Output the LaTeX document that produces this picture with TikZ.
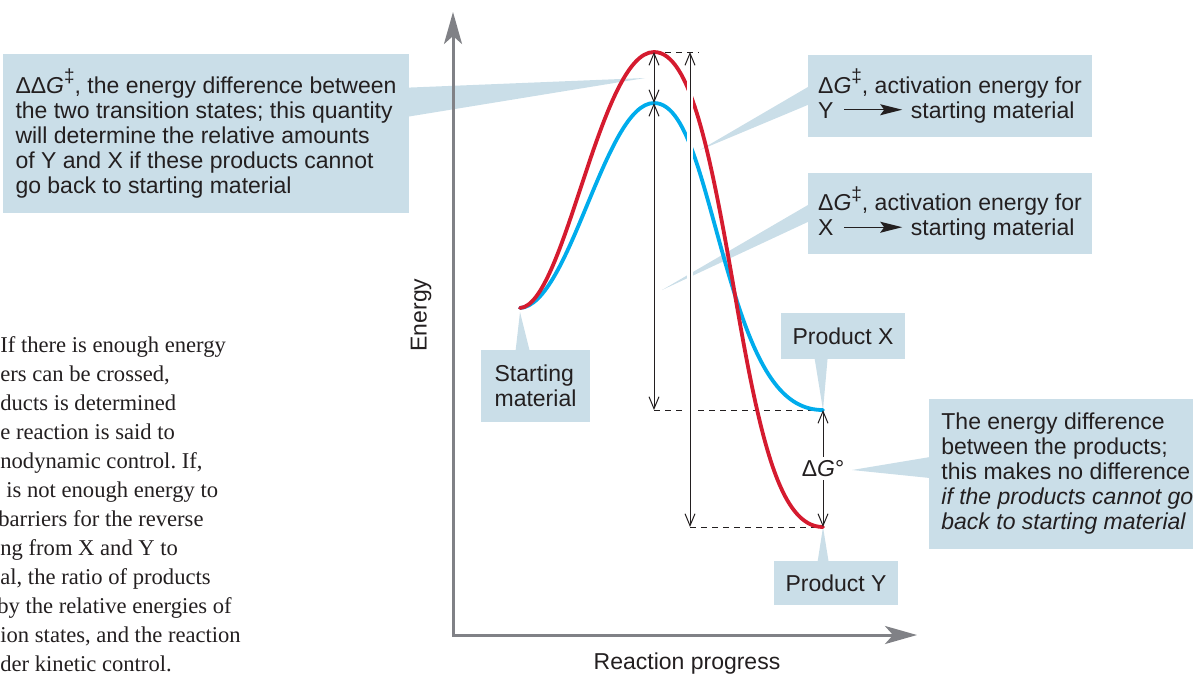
\documentclass[tikz,border=0pt]{standalone}
\usepackage{fontspec}
\setmainfont{Liberation Sans}
\newfontfamily\serifbody{Liberation Serif}
\usepackage{tikz}
\usetikzlibrary{arrows.meta,calc}
\frenchspacing

\definecolor{callout}{RGB}{202,222,232}
\definecolor{curvered}{RGB}{213,27,47}
\definecolor{curveblue}{RGB}{0,172,236}
\definecolor{axisgray}{RGB}{128,129,134}
\definecolor{inktext}{RGB}{35,31,32}

\newcommand{\rxnarrow}{\tikz[baseline=-0.72ex]\draw[inktext, line width=0.7pt, -{Stealth[length=11pt,width=5.5pt,inset=2pt]}] (0pt,0pt) -- (29pt,0pt);}
\newcommand{\tsdag}{\raisebox{0.9ex}{\fontsize{9.5}{9.5}\selectfont ‡}}
\newcommand{\dGdag}{Δ\textit{G}\tsdag}

\begin{document}
\begin{tikzpicture}[x=0.5pt, y=-0.5pt,
  callbox/.style={fill=callout, inner sep=0pt, align=left, text=inktext, font=\fontsize{11.5}{12.5}\selectfont},
  axis/.style={draw=axisgray, line width=1.5pt, {Stealth[length=16pt,width=9pt,inset=4pt]}-{Stealth[length=16pt,width=9pt,inset=4pt]}},
  dim/.style={draw=inktext, line width=0.5pt, {Straight Barb[length=6pt,width=5pt]}-{Straight Barb[length=6pt,width=5pt]}},
  guide/.style={draw=inktext, line width=0.5pt, dash pattern=on 3pt off 2.5pt},
  curve/.style={line width=1.9pt, line cap=round},
  lbl/.style={text=inktext, inner sep=0pt, font=\fontsize{11.5}{12.5}\selectfont},
]
\path[use as bounding box, clip] (0,0) rectangle (1193,677);

% key points of the profile
\coordinate (sm) at (520,308);
\coordinate (tsy) at (654,52);
\coordinate (tsx) at (654,103);
\coordinate (px) at (823,410);
\coordinate (py) at (823,527);
\coordinate (ytop) at (690,52);
\coordinate (origin) at (453,635);
\coordinate (ytip) at (453,12);
\coordinate (xtip) at (917,635);

% callout boxes
\node[callbox, minimum width=203pt, minimum height=79.5pt] (ddg) at (206,133.5)
  {ΔΔ\textit{G}\tsdag, the energy difference between\\the two transition states; this quantity\\will determine the relative amounts\\of Y and X if these products cannot\\go back to starting material};
\node[callbox, minimum width=142pt, minimum height=41pt] (agy) at (950,96)
  {\dGdag, activation energy for\\Y\kern5pt\rxnarrow\kern4pt starting material};
\node[callbox, minimum width=142pt, minimum height=40.5pt] (agx) at (950,213.5)
  {\dGdag, activation energy for\\X\kern5pt\rxnarrow\kern4pt starting material};
\node[callbox, minimum width=54.5pt, minimum height=36pt] (smbox) at (535.5,386) {Starting\\material};
\node[callbox, minimum width=62pt, minimum height=23pt] (pxbox) at (843,336) {Product X};
\node[callbox, minimum width=62pt, minimum height=22pt] (pybox) at (836,583) {Product Y};
\node[callbox, anchor=west, inner xsep=6pt, minimum height=75pt] (diffbox) at (929,474)
  {The energy difference\\between the products;\\this makes no difference\\\textit{if the products cannot go}\\\textit{back to starting material}};

% pointers
\coordinate (ddtip) at (645,78);
\coordinate (agytip) at (700,150);
\coordinate (agxtip) at (662,290);
\coordinate (difftip) at (852,470);
\fill[callout] ($(ddg.north east)+(-1,34)$) -- (ddtip) -- ($(ddg.north east)+(-1,63)$) -- cycle;
\fill[callout] ($(agy.north west)+(1,32)$) -- (agytip) -- ($(agy.north west)+(1,50)$) -- cycle;
\fill[callout] ($(agx.north west)+(1,32)$) -- (agxtip) -- ($(agx.north west)+(1,49)$) -- cycle;
\fill[callout] ($(smbox.north west)+(35,1)$) -- ($(sm)+(0,4)$) -- ($(smbox.north west)+(49,1)$) -- cycle;
\fill[callout] ($(pxbox.south west)+(34,-1)$) -- (px) -- ($(pxbox.south west)+(47,-1)$) -- cycle;
\fill[callout] ($(pybox.north west)+(44,1)$) -- (py) -- ($(pybox.north west)+(55,1)$) -- cycle;
\fill[callout] ($(diffbox.west)+(1,-17)$) -- (difftip) -- ($(diffbox.west)+(1,4)$) -- cycle;

% side note (cut at the left edge)
\node[anchor=north west, inner sep=0pt, align=left, text=inktext, font=\serifbody\fontsize{11.3}{14.5}\selectfont] (note) at (0,336)
  {If there is enough energy\\ers can be crossed,\\ducts is determined\\e reaction is said to\\nodynamic control. If,\\\hspace*{3pt}is not enough energy to\\\kern-1pt barriers for the reverse\\ng from X and Y to\\al, the ratio of products\\\kern-1.5pt by the relative energies of\\ion states, and the reaction\\der kinetic control.};

% axes
\draw[axis] (ytip) -- (origin) -- (xtip);
\node[lbl, rotate=90] (elabel) at (421,315) {Energy};
\node[lbl] (plabel) at (687,664) {Reaction progress};

% level guides
\draw[guide] (tsy) -- ($(ytop)+(9,0)$);
\draw[guide] (tsx |- px) -- (px);
\draw[guide] (ytop |- py) -- (py);

% energy profiles
\draw[curve, curveblue] (sm) .. controls (570,305) and (605,103) .. (tsx)
  .. controls (690,103) and (705,200) .. (735,295)
  .. controls (760,375) and (785,410) .. (px);
\draw[curve, curvered] (sm) .. controls (565,305) and (600,52) .. (tsy)
  .. controls (690,52) and (710,150) .. (735,295)
  .. controls (760,440) and (780,527) .. (py);

% energy differences
\draw[dim] (tsy) -- (tsx);
\draw[dim] (tsx) -- (tsx |- px);
\draw[dim, preaction={draw=white, line width=3pt, -, shorten <=10pt, shorten >=10pt}] (ytop) -- (ytop |- py);
\draw[dim] (px) -- node[lbl, fill=white, inner sep=1.5pt] (dgo) {Δ\textit{G}°} (py);
\end{tikzpicture}
\end{document}
